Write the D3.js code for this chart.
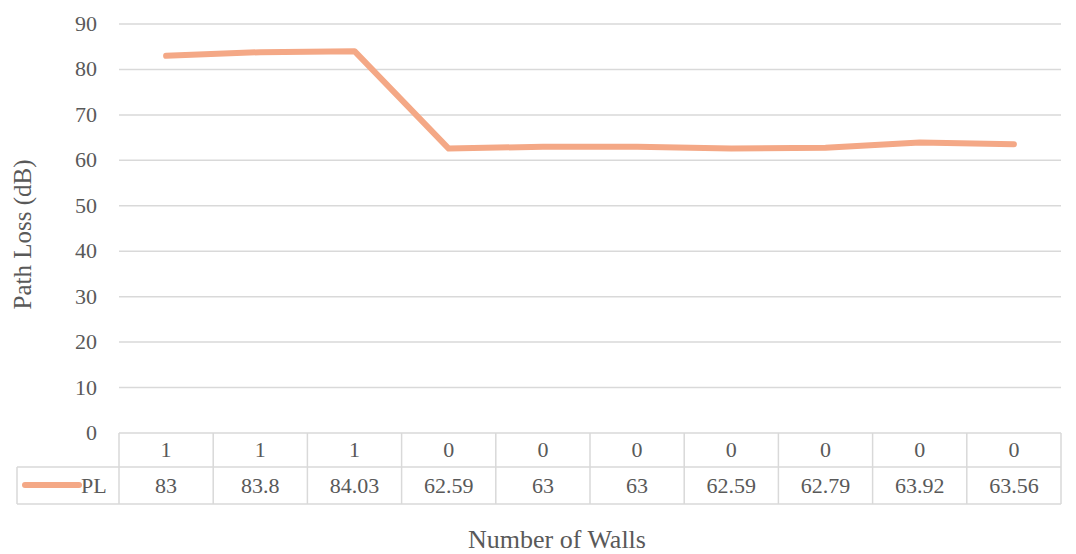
<!DOCTYPE html>
<html>
<head>
<meta charset="utf-8">
<script src="https://cdn.jsdelivr.net/npm/d3@7"></script>
<style>
  body { margin: 0; background: #fff; }
  svg text { font-family: "Liberation Serif", "DejaVu Serif", serif; fill: #595959; }
</style>
</head>
<body>
<svg width="1076" height="554"></svg>
<script>
// chart data
var categories = ['1', '1', '1', '0', '0', '0', '0', '0', '0', '0'];
var plValues = [83, 83.8, 84.03, 62.59, 63, 63, 62.59, 62.79, 63.92, 63.56];
var plLabels = ['83', '83.8', '84.03', '62.59', '63', '63', '62.59', '62.79', '63.92', '63.56'];
var yTicks = [0, 10, 20, 30, 40, 50, 60, 70, 80, 90];

var LINE_COLOR = '#f4a886';
var GRID_COLOR = '#d9d9d9';
var FONT = 22;

var svg = d3.select('svg');
var plotLeft = 119, plotRight = 1061, plotTop = 24, plotBottom = 433;
var rowH1 = 34, rowH2 = 37;

var x = d3.scaleBand().domain(d3.range(categories.length)).range([plotLeft, plotRight]);
var y = d3.scaleLinear().domain([0, 90]).range([plotBottom, plotTop]);

// gridlines
svg.append('g').selectAll('line')
    .data(yTicks.filter(function (d) { return d > 0; }))
    .enter().append('line')
    .attr('x1', plotLeft).attr('x2', plotRight)
    .attr('y1', function (d) { return y(d); })
    .attr('y2', function (d) { return y(d); })
    .attr('stroke', GRID_COLOR).attr('stroke-width', 1.5);

// y tick labels
svg.append('g').selectAll('text')
    .data(yTicks)
    .enter().append('text')
    .attr('x', 97)
    .attr('y', function (d) { return y(d) + 7; })
    .attr('text-anchor', 'end')
    .attr('font-size', FONT)
    .text(function (d) { return d; });

// data table
var table = svg.append('g').attr('stroke', GRID_COLOR).attr('stroke-width', 1.5);
var t0 = plotBottom, t1 = plotBottom + rowH1, t2 = t1 + rowH2;
table.append('line').attr('x1', plotLeft).attr('x2', plotRight).attr('y1', t0).attr('y2', t0);
table.append('line').attr('x1', 17).attr('x2', plotRight).attr('y1', t1).attr('y2', t1);
table.append('line').attr('x1', 17).attr('x2', plotRight).attr('y1', t2).attr('y2', t2);
table.append('line').attr('x1', 17).attr('x2', 17).attr('y1', t1).attr('y2', t2);
table.selectAll('line.col')
    .data(d3.range(categories.length + 1))
    .enter().append('line')
    .attr('class', 'col')
    .attr('x1', function (i) { return plotLeft + i * x.step(); })
    .attr('x2', function (i) { return plotLeft + i * x.step(); })
    .attr('y1', t0).attr('y2', t2);

svg.append('g').selectAll('text')
    .data(categories)
    .enter().append('text')
    .attr('x', function (d, i) { return x(i) + x.bandwidth() / 2; })
    .attr('y', t0 + 24)
    .attr('text-anchor', 'middle')
    .attr('font-size', FONT)
    .text(function (d) { return d; });

svg.append('g').selectAll('text')
    .data(plLabels)
    .enter().append('text')
    .attr('x', function (d, i) { return x(i) + x.bandwidth() / 2; })
    .attr('y', t1 + 26)
    .attr('text-anchor', 'middle')
    .attr('font-size', FONT)
    .text(function (d) { return d; });

// legend key in the table
svg.append('line')
    .attr('x1', 25).attr('x2', 79)
    .attr('y1', t1 + 18).attr('y2', t1 + 18)
    .attr('stroke', LINE_COLOR).attr('stroke-width', 6).attr('stroke-linecap', 'round');
svg.append('text')
    .attr('x', 81).attr('y', t1 + 26)
    .attr('font-size', FONT)
    .text('PL');

// the series line
var line = d3.line()
    .x(function (d, i) { return x(i) + x.bandwidth() / 2; })
    .y(function (d) { return y(d); });
svg.append('path')
    .datum(plValues)
    .attr('d', line)
    .attr('fill', 'none')
    .attr('stroke', LINE_COLOR)
    .attr('stroke-width', 6)
    .attr('stroke-linecap', 'round')
    .attr('stroke-linejoin', 'round');

// axis titles
svg.append('text')
    .attr('transform', 'translate(31,' + ((plotTop + plotBottom) / 2 + 6) + ') rotate(-90)')
    .attr('text-anchor', 'middle')
    .attr('font-size', 25)
    .text('Path Loss (dB)');
svg.append('text')
    .attr('x', 557)
    .attr('y', 548)
    .attr('text-anchor', 'middle')
    .attr('font-size', 26)
    .text('Number of Walls');
</script>
</body>
</html>
